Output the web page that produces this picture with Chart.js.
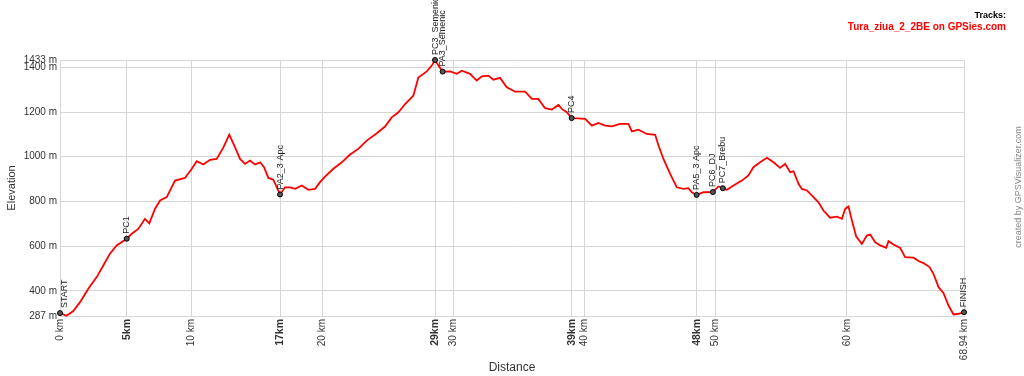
<!DOCTYPE html>
<html>
<head>
<meta charset="utf-8">
<script src="https://cdn.jsdelivr.net/npm/chart.js@4.4.1/dist/chart.umd.min.js"></script>
<style>
  html, body { margin: 0; padding: 0; background: #ffffff; }
  #c { display: block; }
</style>
</head>
<body>
<canvas id="c" width="1024" height="376"></canvas>
<script>
// ---- data ----
const distanceKm = [0, 0.5, 1.01, 1.53, 2.16, 2.8, 3.3, 3.81, 4.32, 5.09, 5.47, 5.97, 6.48, 6.81, 7.25, 7.63, 8.14, 8.77, 9.53, 10.05, 10.43, 10.93, 11.44, 11.95, 12.46, 12.91, 13.35, 13.73, 14.11, 14.49, 14.87, 15.26, 15.56, 15.89, 16.27, 16.78, 17.16, 17.54, 17.93, 18.44, 18.94, 19.45, 19.83, 20.21, 20.85, 21.49, 22.12, 22.75, 23.39, 24.16, 24.79, 25.3, 25.81, 26.32, 26.95, 27.33, 27.97, 28.35, 28.6, 28.86, 29.18, 29.75, 30.26, 30.64, 31.27, 31.78, 32.17, 32.67, 33.05, 33.56, 34.07, 34.71, 35.47, 35.98, 36.48, 36.99, 37.51, 38.01, 38.27, 38.65, 39.02, 39.53, 40.05, 40.56, 41.06, 41.57, 42.08, 42.72, 43.35, 43.61, 44.11, 44.75, 45.39, 45.64, 46.02, 46.53, 47.04, 47.54, 47.92, 48.18, 48.55, 49.07, 49.79, 50.21, 50.55, 50.86, 51.36, 52.0, 52.5, 52.88, 53.39, 53.91, 54.41, 54.92, 55.3, 55.68, 55.94, 56.32, 56.57, 56.96, 57.46, 57.84, 58.22, 58.73, 59.25, 59.63, 59.88, 60.13, 60.39, 60.72, 61.15, 61.53, 61.79, 62.17, 62.55, 63.01, 63.18, 63.56, 64.07, 64.45, 65.09, 65.47, 65.85, 66.31, 66.61, 67.0, 67.38, 67.76, 68.14, 68.52, 68.94];
const elevationM = [300, 288, 309, 349, 409, 461, 513, 566, 603, 633, 655, 677, 722, 702, 767, 804, 819, 893, 905, 946, 980, 965, 986, 990, 1042, 1099, 1042, 990, 968, 983, 965, 975, 953, 905, 897, 831, 863, 863, 856, 871, 852, 856, 886, 911, 946, 975, 1010, 1035, 1072, 1105, 1135, 1176, 1199, 1236, 1274, 1355, 1382, 1408, 1433, 1408, 1381, 1382, 1371, 1385, 1371, 1341, 1360, 1363, 1345, 1353, 1311, 1291, 1291, 1259, 1259, 1217, 1211, 1232, 1214, 1199, 1173, 1172, 1169, 1139, 1151, 1139, 1136, 1147, 1147, 1113, 1121, 1102, 1098, 1050, 990, 923, 863, 856, 859, 841, 829, 841, 842, 867, 859, 852, 871, 893, 916, 953, 975, 995, 975, 950, 968, 931, 935, 879, 856, 849, 819, 796, 759, 727, 732, 722, 767, 777, 715, 643, 610, 647, 652, 617, 603, 592, 622, 607, 592, 550, 548, 533, 524, 506, 476, 416, 389, 334, 294, 297, 304];

const waypointNames = ["START", "PC1", "PA2_3 Apc", "PC3_Semenic", "PA3_Semenic", "PC4", "PA5_3 Apc", "PC6_DJ", "PC7_Brebu", "FINISH"];
const waypointKm    = [0, 5.09, 16.78, 28.6, 29.18, 39.02, 48.55, 49.79, 50.55, 68.94];
const waypointElev  = [300, 633, 831, 1433, 1381, 1173, 829, 842, 859, 304];

const xTickValues = [0, 5.09, 10, 16.78, 20, 28.6, 30, 39.02, 40, 48.55, 50, 60, 68.94];
const xTickLabels = ["0 km", "5km", "10 km", "17km", "20 km", "29km", "30 km", "39km", "40 km", "48km", "50 km", "60 km", "68.94 km"];
const xTickBold   = [false, true, false, true, false, true, false, true, false, true, false, false, false];

const yTickValues = [287, 400, 600, 800, 1000, 1200, 1400, 1433];
const yTickLabels = ["287 m", "400 m", "600 m", "800 m", "1000 m", "1200 m", "1400 m", "1433 m"];

const trackName = "Tura_ziua_2_2BE on GPSies.com";

// ---- chart ----
const GRID = '#d6d6d6';
const TXT = '#333333';

const extrasPlugin = {
  id: 'extras',
  beforeDraw(chart) {
    const ctx = chart.ctx;
    ctx.save();
    ctx.fillStyle = '#ffffff';
    ctx.fillRect(0, 0, chart.width, chart.height);
    ctx.restore();
  },
  afterDraw(chart) {
    const ctx = chart.ctx;
    const xs = chart.scales.x, ys = chart.scales.y;
    ctx.save();
    // waypoint labels
    ctx.fillStyle = '#222';
    ctx.font = '9px "Liberation Sans", Arial, sans-serif';
    ctx.textAlign = 'left';
    ctx.textBaseline = 'middle';
    for (let i = 0; i < waypointNames.length; i++) {
      const px = xs.getPixelForValue(waypointKm[i]) + (i === 0 ? 5 : 0);
      const py = ys.getPixelForValue(waypointElev[i]);
      ctx.save();
      ctx.translate(px, py - 5);
      ctx.rotate(-Math.PI / 2);
      ctx.fillText(waypointNames[i], 0, 0);
      ctx.restore();
    }
    // legend text, top right
    ctx.textAlign = 'right';
    ctx.textBaseline = 'middle';
    ctx.fillStyle = '#000';
    ctx.font = 'bold 9px "Liberation Sans", Arial, sans-serif';
    ctx.fillText('Tracks:', 1006, 16);
    ctx.fillStyle = '#ff0000';
    ctx.font = 'bold 10px "Liberation Sans", Arial, sans-serif';
    ctx.fillText(trackName, 1006, 27);
    // credit, rotated on the right
    ctx.fillStyle = '#888';
    ctx.font = '9px "Liberation Sans", Arial, sans-serif';
    ctx.textAlign = 'center';
    ctx.save();
    ctx.translate(1019, 187);
    ctx.rotate(-Math.PI / 2);
    ctx.fillText('created by GPSVisualizer.com', 0, 0);
    ctx.restore();
    ctx.restore();
  }
};

new Chart(document.getElementById('c'), {
  type: 'line',
  data: {
    datasets: [
      {
        label: 'waypoints',
        data: waypointKm.map((k, i) => ({ x: k, y: waypointElev[i] })),
        showLine: false,
        pointRadius: 2.5,
        pointBackgroundColor: '#555',
        pointBorderColor: '#000',
        pointBorderWidth: 1,
        clip: 8,
        order: 0
      },
      {
        label: trackName,
        data: distanceKm.map((k, i) => ({ x: k, y: elevationM[i] })),
        borderColor: '#ff0000',
        borderWidth: 1.8,
        pointRadius: 0,
        tension: 0,
        fill: false,
        clip: 4,
        order: 1
      }
    ]
  },
  options: {
    responsive: false,
    animation: false,
    devicePixelRatio: 1,
    layout: { padding: { top: 60, right: 60, left: 0, bottom: 0 } },
    plugins: {
      legend: { display: false },
      tooltip: { enabled: false },
      title: { display: false }
    },
    scales: {
      x: {
        type: 'linear',
        min: 0,
        max: 68.94,
        afterBuildTicks(scale) { scale.ticks = xTickValues.map(v => ({ value: v })); },
        afterFit(scale) { scale.height = 60; },
        grid: { color: GRID, drawTicks: false, lineWidth: 1 },
        border: { color: GRID },
        ticks: {
          autoSkip: false,
          minRotation: 90,
          maxRotation: 90,
          padding: 3,
          color: TXT,
          callback: (v, i) => xTickLabels[i],
          font: (c) => (c.index !== undefined && xTickBold[c.index])
            ? { family: '"Liberation Sans", Arial, sans-serif', size: 10.5, weight: 'bold' }
            : { family: '"Liberation Sans", Arial, sans-serif', size: 10, weight: 'normal' }
        },
        title: {
          display: true,
          text: 'Distance',
          color: TXT,
          font: { family: '"Liberation Sans", Arial, sans-serif', size: 12 },
          padding: { top: 4, bottom: 1 }
        }
      },
      y: {
        type: 'linear',
        min: 287,
        max: 1433,
        afterBuildTicks(scale) { scale.ticks = yTickValues.map(v => ({ value: v })); },
        afterFit(scale) { scale.width = 60; },
        grid: { color: GRID, drawTicks: false, lineWidth: 1 },
        border: { color: GRID },
        ticks: {
          autoSkip: false,
          padding: 3,
          color: TXT,
          callback: (v, i) => yTickLabels[i],
          font: { family: '"Liberation Sans", Arial, sans-serif', size: 10 }
        },
        title: {
          display: true,
          text: 'Elevation',
          color: TXT,
          font: { family: '"Liberation Sans", Arial, sans-serif', size: 11 },
          padding: { top: 5, bottom: 0 }
        }
      }
    }
  },
  plugins: [extrasPlugin]
});
</script>
</body>
</html>
